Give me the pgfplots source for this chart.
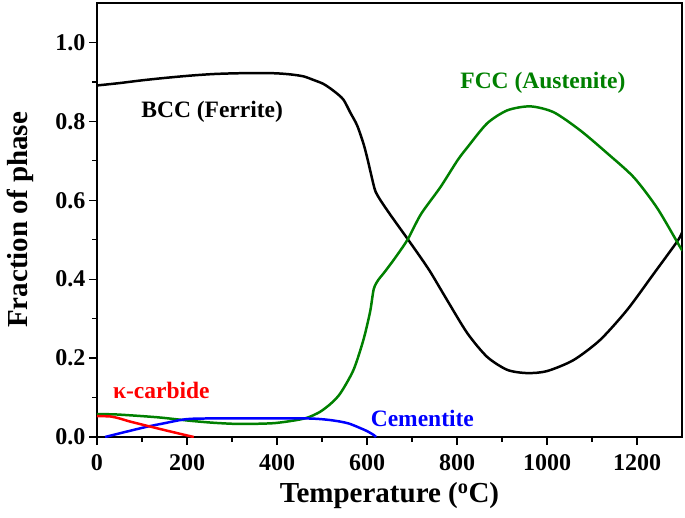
\documentclass[border=0pt]{standalone}
\usepackage{fontspec}
\setmainfont{Liberation Serif}
\usepackage{pgfplots}
\pgfplotsset{compat=1.18}
\definecolor{fccgreen}{RGB}{0,128,0}
\definecolor{cemblue}{RGB}{0,0,255}
\definecolor{kapred}{RGB}{255,0,0}
\begin{document}
\begin{tikzpicture}
\begin{axis}[
  scale only axis, width=585bp, height=434bp,
  xmin=0, xmax=1300, ymin=0, ymax=1.1,
  xtick={0,200,...,1200}, ytick={0,0.2,0.4,0.6,0.8,1.0},
  minor x tick num=1, minor y tick num=1,
  tick pos=left, tick align=outside,
  major tick length=8bp, minor tick length=5bp,
  every tick/.style={black, line width=1.3pt},
  axis line style={line width=1.6pt},
  /pgf/number format/assume math mode=true,
  yticklabel style={/pgf/number format/.cd, fixed, fixed zerofill, precision=1},
  xticklabel style={yshift=-6bp, /pgf/number format/.cd, fixed, 1000 sep={}},
  ticklabel style={font=\fontsize{24bp}{28bp}\selectfont\bfseries},
  xlabel={Temperature (\textsuperscript{o}C)},
  ylabel={Fraction of phase},
  label style={font=\fontsize{29bp}{34bp}\selectfont\bfseries},
  xlabel style={at={(axis description cs:0.5,-0.134)}, anchor=center},
  ylabel style={at={(axis description cs:-0.1316,0.5)}, anchor=center},
  every axis plot/.append style={line width=2.5pt, line join=round, smooth, tension=0.45},
]
% BCC (Ferrite)
\addplot[black] coordinates {
(0,0.891) (50,0.897) (100,0.904) (150,0.910) (208,0.916) (260,0.920) (318,0.922)
(392,0.922) (430,0.919) (459,0.914) (481,0.905) (503,0.895) (525,0.878) (547,0.856)
(563,0.822) (578,0.790) (592,0.744) (600,0.710) (607,0.676) (614,0.642) (619,0.622)
(630,0.600) (652,0.563) (689,0.504) (718,0.457) (741,0.418) (778,0.347) (823,0.263)
(867,0.203) (912,0.170) (956,0.162) (1000,0.167) (1059,0.195) (1118,0.246)
(1178,0.322) (1236,0.412) (1289,0.495) (1300,0.518)
};
% FCC (Austenite)
\addplot[fccgreen] coordinates {
(0,0.058) (45,0.057) (134,0.050) (208,0.041) (260,0.036) (318,0.033) (392,0.035)
(444,0.043) (470,0.050) (496,0.064) (520,0.085) (541,0.111) (570,0.170) (592,0.246)
(607,0.318) (615,0.375) (625,0.398) (637,0.415) (660,0.450) (690,0.500) (720,0.565)
(763,0.633) (801,0.701) (823,0.734) (867,0.795) (912,0.828) (963,0.838) (1015,0.823)
(1074,0.777) (1134,0.719) (1193,0.658) (1245,0.580) (1296,0.481) (1300,0.475)
};
% Cementite
\addplot[cemblue] coordinates {
(18,0) (60,0.012) (111,0.026) (150,0.035) (185,0.043) (207,0.046) (250,0.047)
(350,0.047) (467,0.047) (510,0.044) (541,0.039) (560,0.034) (578,0.026) (600,0.015)
(615,0.005) (620,0)
};
% kappa-carbide
\addplot[kapred] coordinates {
(0,0.053) (30,0.052) (50,0.047) (74,0.039) (134,0.022) (185,0.008) (215,0)
};
\node[black, font=\fontsize{23.5bp}{28bp}\selectfont\bfseries] at (axis cs:256,0.824) {BCC (Ferrite)};
\node[fccgreen, font=\fontsize{23.5bp}{28bp}\selectfont\bfseries] at (axis cs:991,0.897) {FCC (Austenite)};
\node[kapred, font=\fontsize{23.5bp}{28bp}\selectfont\bfseries] at (axis cs:143,0.117) {κ-carbide};
\node[cemblue, font=\fontsize{23.5bp}{28bp}\selectfont\bfseries] at (axis cs:723,0.047) {Cementite};
\end{axis}
\pgfresetboundingbox
\path (current axis.south west) ++(-97bp,-81bp) rectangle ([shift={(3bp,3bp)}]current axis.north east);
\end{tikzpicture}
\end{document}
